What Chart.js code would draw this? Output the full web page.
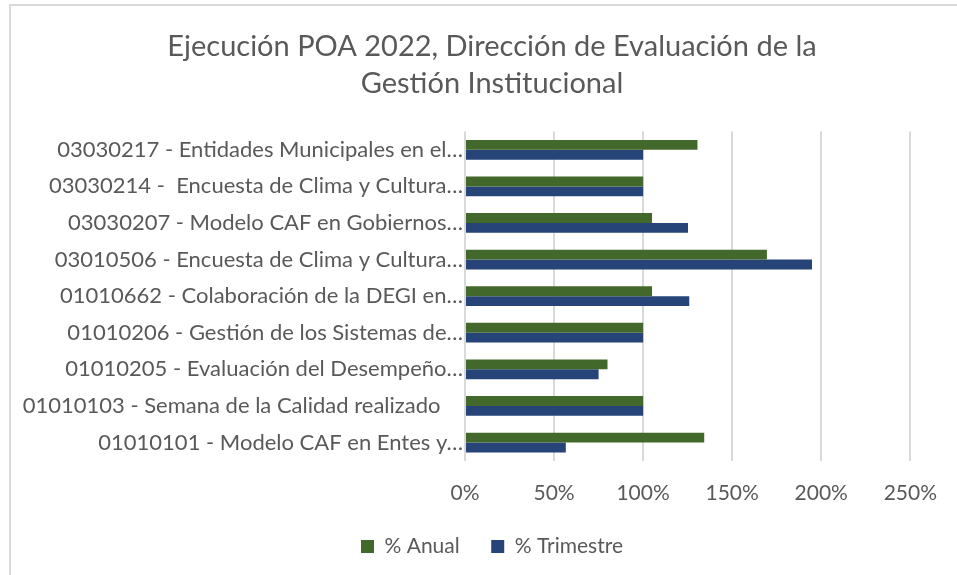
<!DOCTYPE html>
<html>
<head>
<meta charset="utf-8">
<script src="https://cdn.jsdelivr.net/npm/chart.js@4/dist/chart.umd.min.js"></script>
<style>
  body { margin: 0; background: #fff; }
  #frame { position: absolute; left: 9px; top: 4px; width: 960px; height: 590px; border: 2px solid #d9d9d9; }
  #wrap { position: absolute; left: 0; top: 0; width: 957px; height: 575px; }
</style>
</head>
<body>
<div id="frame"></div>
<div id="wrap"><canvas id="chart"></canvas></div>
<script>
// Categories (top to bottom, as shown)
const categories = [
    '03030217 - Entidades Municipales en el…',
    '03030214 -  Encuesta de Clima y Cultura…',
    '03030207 - Modelo CAF en Gobiernos…',
    '03010506 - Encuesta de Clima y Cultura…',
    '01010662 - Colaboración de la DEGI en…',
    '01010206 - Gestión de los Sistemas de…',
    '01010205 - Evaluación del Desempeño…',
    '01010103 - Semana de la Calidad realizado    ',
    '01010101 - Modelo CAF en Entes y…'
];

// Series values (percent)
const anual = [130.5, 100, 105, 169.5, 105, 100, 80, 100, 134.3];
const trimestre = [100, 100, 125.2, 194.8, 125.9, 100, 75, 100, 56.6];

const titleLines = ['Ejecución POA 2022, Dirección de Evaluación de la', 'Gestión Institucional'];
const fontFamily = 'Lato, "Open Sans", sans-serif';
const textColor = '#595959';

// title and legend sit a bit right of the canvas centre in the original
const shiftCenter = {
    id: 'shiftCenter',
    afterLayout(chart) {
        const dx = 23;
        [chart.titleBlock, chart.legend].forEach((box) => {
            box.left += dx;
            box.right += dx;
        });
    }
};

const chart = new Chart(document.getElementById('chart'), {
    type: 'bar',
    data: {
        labels: categories,
        datasets: [{
            label: '% Anual    ',
            data: anual,
            backgroundColor: '#43682b',
            borderWidth: 0,
            categoryPercentage: 0.54,
            barPercentage: 1
        }, {
            label: '% Trimestre',
            data: trimestre,
            backgroundColor: '#264478',
            borderWidth: 0,
            categoryPercentage: 0.54,
            barPercentage: 1
        }]
    },
    plugins: [shiftCenter],
    options: {
        indexAxis: 'y',
        responsive: true,
        maintainAspectRatio: false,
        animation: false,
        layout: { padding: { left: 20, right: 39, top: 18, bottom: 8 } },
        plugins: {
            title: {
                display: true,
                text: titleLines,
                color: textColor,
                font: { family: fontFamily, size: 29, weight: 'normal', lineHeight: 1.25 },
                padding: { top: 11, bottom: 30 }
            },
            legend: {
                position: 'bottom',
                labels: {
                    color: textColor,
                    font: { family: fontFamily, size: 21 },
                    boxWidth: 13,
                    boxHeight: 13,
                    padding: 10
                }
            },
            tooltip: { enabled: false }
        },
        scales: {
            x: {
                min: 0,
                max: 250,
                ticks: {
                    stepSize: 50,
                    color: textColor,
                    font: { family: fontFamily, size: 21 },
                    padding: 20,
                    callback: (v) => v + '%'
                },
                grid: { color: '#d9d9d9', lineWidth: 2, drawTicks: false },
                border: { display: false }
            },
            y: {
                ticks: {
                    color: textColor,
                    font: { family: fontFamily, size: 22 },
                    padding: 2,
                    autoSkip: false
                },
                grid: { display: false, drawTicks: false },
                border: { display: false },
                afterFit: (scale) => { scale.width = 445; }
            }
        }
    }
});
</script>
</body>
</html>
